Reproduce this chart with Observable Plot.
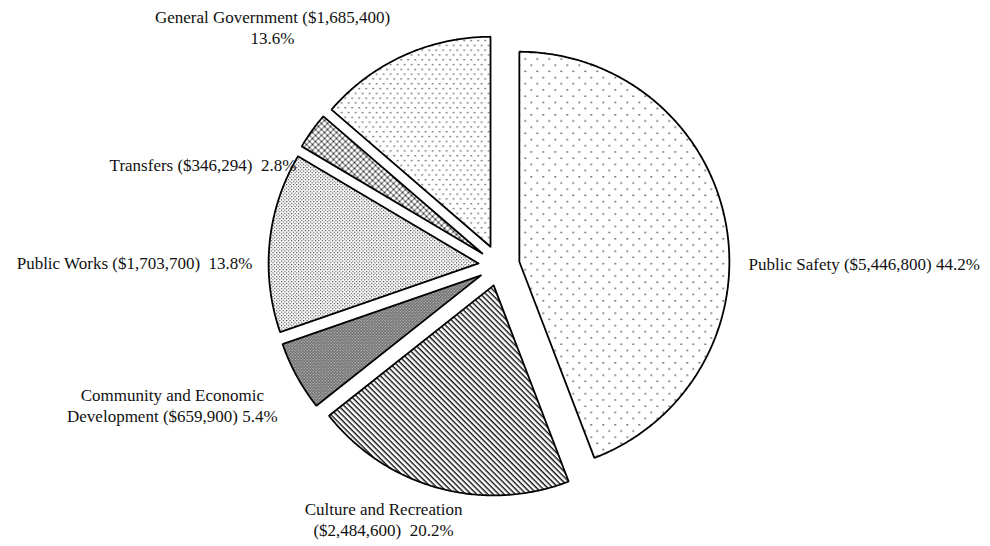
<!DOCTYPE html>
<html><head><meta charset="utf-8">
<script src="https://cdn.jsdelivr.net/npm/d3@7"></script>
<script src="https://cdn.jsdelivr.net/npm/@observablehq/plot@0.6"></script>
<style>body{margin:0;background:#fff}#chart{width:990px;height:546px}</style>
</head><body><div id="chart"></div>
<script>
// ---- data ----
const categories = ["Public Safety", "Culture and Recreation", "Community and Economic Development", "Public Works", "Transfers", "General Government"];
const amounts = [5446800, 2484600, 659900, 1703700, 346294, 1685400];
const percents = [44.2, 20.2, 5.4, 13.8, 2.8, 13.6];
const labelTexts = [
  "Public Safety ($5,446,800) 44.2%",
  "Culture and Recreation\n($2,484,600)  20.2%",
  "Community and Economic\nDevelopment ($659,900) 5.4%",
  "Public Works ($1,703,700)  13.8%",
  "Transfers ($346,294)  2.8%",
  "General Government ($1,685,400)\n13.6%"
];

// ---- styles / layout ----
const W = 990, H = 546, R = 210, cx = 498.6, cy = 265, explodePx = 20.6;
const patternIds = ["pPS", "pCR", "pCED", "pPW", "pTR", "pGG"];
const labelAnchors = ["start", "middle", "middle", "end", "end", "middle"];
const labelDx = [12, -51.6, -115, -6.3, -6.6, -126];
const labelDy = [41.4, 20.5, 23.3, 20.6, 39.5, -19.6];
const labelRadius = 1.15;

const arcs = d3.pie().sort(null).value(d => d)(amounts);
const ex = explodePx / R;
const slices = arcs.map((a, i) => {
  const mid = (a.startAngle + a.endAngle) / 2;
  const ox = ex * Math.sin(mid), oy = -ex * Math.cos(mid);
  const pts = [{x: ox, y: oy}];
  const n = Math.max(2, Math.ceil((a.endAngle - a.startAngle) / 0.01));
  for (let k = 0; k <= n; k++) {
    const t = a.startAngle + (a.endAngle - a.startAngle) * k / n;
    pts.push({x: ox + Math.sin(t), y: oy - Math.cos(t)});
  }
  pts.push({x: ox, y: oy});
  return {pts, mid, i};
});

const labels = slices.map(s => ({
  x: labelRadius * Math.sin(s.mid),
  y: -labelRadius * Math.cos(s.mid),
  text: labelTexts[s.i]
}));

const marks = [
  ...slices.map(s => Plot.line(s.pts, {
    x: "x", y: "y", fill: `url(#${patternIds[s.i]})`, stroke: "#000",
    strokeWidth: 1.8, strokeLinejoin: "miter", curve: "linear"
  })),
  ...labels.map((l, i) => Plot.text([l], {
    x: "x", y: "y", text: "text", textAnchor: labelAnchors[i],
    dx: labelDx[i], dy: labelDy[i], fontSize: 17, lineHeight: 1.24,
    fontFamily: "Liberation Serif", fill: "#111"
  }))
];

const svg = Plot.plot({
  width: W, height: H,
  margin: 0,
  x: {domain: [-cx / R, (W - cx) / R], range: [0, W], axis: null},
  y: {domain: [-cy / R, (H - cy) / R], range: [0, H], axis: null},
  marks
});
svg.style.background = "#fff";
svg.insertAdjacentHTML("afterbegin", `<defs>
<pattern id="pPS" patternUnits="userSpaceOnUse" width="12" height="12.4">
  <rect width="12" height="12.4" fill="#fff"/>
  <rect x="2" y="2" width="1.4" height="1.4" fill="#333"/>
  <rect x="8" y="8.2" width="1.4" height="1.4" fill="#333"/>
</pattern>
<pattern id="pGG" patternUnits="userSpaceOnUse" width="7" height="9.6">
  <rect width="7" height="9.6" fill="#fff"/>
  <rect x="1" y="1" width="1.3" height="1.3" fill="#333"/>
  <rect x="4.5" y="5.8" width="1.3" height="1.3" fill="#333"/>
</pattern>
<pattern id="pPW" patternUnits="userSpaceOnUse" width="3.4" height="3.4">
  <rect width="3.4" height="3.4" fill="#fff"/>
  <rect x="0" y="0" width="1.1" height="1.1" fill="#333"/>
  <rect x="1.7" y="1.7" width="1.1" height="1.1" fill="#333"/>
</pattern>
<pattern id="pCED" patternUnits="userSpaceOnUse" width="3" height="3">
  <rect width="3" height="3" fill="#fff"/>
  <rect x="0" y="0" width="1.5" height="1.5" fill="#1a1a1a"/>
  <rect x="1.5" y="1.5" width="1.5" height="1.5" fill="#1a1a1a"/>
  <rect x="1.5" y="0" width="0.8" height="0.8" fill="#555"/>
</pattern>
<pattern id="pTR" patternUnits="userSpaceOnUse" width="6" height="6">
  <rect width="6" height="6" fill="#fff"/>
  <path d="M0,0L6,6M6,0L0,6" stroke="#222" stroke-width="0.9"/>
</pattern>
<pattern id="pCR" patternUnits="userSpaceOnUse" width="10" height="3.9" patternTransform="rotate(45)">
  <rect width="10" height="3.9" fill="#fff"/>
  <rect x="0" y="0" width="10" height="1.4" fill="#111"/>
</pattern>
</defs>`);
document.getElementById("chart").appendChild(svg);
</script>
</body></html>
